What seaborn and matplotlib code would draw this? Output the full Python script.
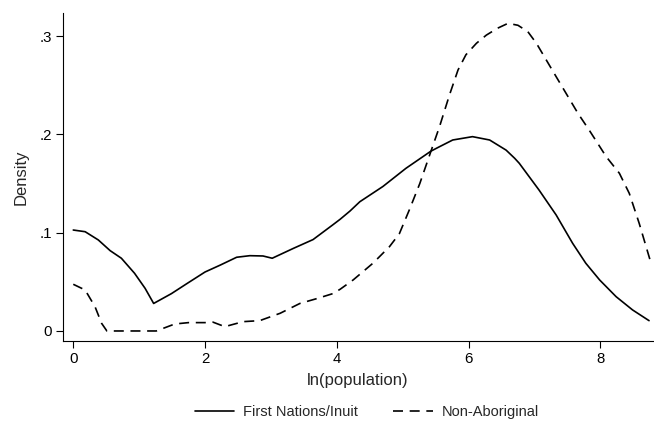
import matplotlib
matplotlib.use("Agg")
import matplotlib.pyplot as plt
import seaborn as sns
import pandas as pd

# First Nations/Inuit density
fn_x = [0, 0.18, 0.38, 0.56, 0.73, 0.93, 1.09, 1.22, 1.49, 1.72, 2.0, 2.23, 2.48, 2.68,
        2.88, 3.02, 3.34, 3.64, 3.94, 4.05, 4.2, 4.35, 4.70, 5.05, 5.43, 5.56, 5.76, 6.06,
        6.32, 6.57, 6.70, 6.77, 7.07, 7.33, 7.58, 7.78, 7.99, 8.24, 8.49, 8.74]
fn_y = [0.1027, 0.101, 0.0926, 0.0817, 0.074, 0.0587, 0.0434, 0.028, 0.038, 0.048, 0.060,
        0.067, 0.075, 0.0766, 0.0763, 0.074, 0.084, 0.093, 0.108, 0.1136, 0.122, 0.1315,
        0.147, 0.1655, 0.183, 0.1875, 0.1943, 0.1977, 0.1943, 0.184, 0.1757, 0.1706, 0.1434,
        0.118, 0.0892, 0.0689, 0.0519, 0.0349, 0.0214, 0.0105]

# Non-Aboriginal density
na_x = [0, 0.18, 0.33, 0.43, 0.51, 1.26, 1.54, 1.75, 2.0, 2.12, 2.3, 2.58, 2.83, 3.14,
        3.44, 3.7, 3.94, 4.05, 4.25, 4.55, 4.80, 4.95, 5.1, 5.26, 5.43, 5.56, 5.71, 5.84,
        5.96, 6.12, 6.27, 6.44, 6.60, 6.75, 6.90, 7.03, 7.18, 7.33, 7.48, 7.66, 7.83, 8.09,
        8.29, 8.44, 8.59, 8.77]
na_y = [0.0475, 0.0417, 0.0247, 0.0078, 0.0, 0.0, 0.0071, 0.0085, 0.0085, 0.009, 0.0044,
        0.0095, 0.0105, 0.018, 0.028, 0.033, 0.038, 0.0424, 0.052, 0.069, 0.0858, 0.099,
        0.123, 0.150, 0.183, 0.208, 0.240, 0.2655, 0.281, 0.2927, 0.301, 0.308, 0.313,
        0.311, 0.3045, 0.2927, 0.2757, 0.2587, 0.2418, 0.2215, 0.2045, 0.1773, 0.1604,
        0.140, 0.1096, 0.0689]

series_names = ["First Nations/Inuit", "Non-Aboriginal"]
x_ticks = [0, 2, 4, 6, 8]
y_ticks = [0, 0.1, 0.2, 0.3]
y_ticklabels = ["0", ".1", ".2", ".3"]

df = pd.concat([
    pd.DataFrame({"x": fn_x, "y": fn_y, "group": series_names[0]}),
    pd.DataFrame({"x": na_x, "y": na_y, "group": series_names[1]}),
])

sns.set_style("white")
plt.rcParams["font.family"] = ["Liberation Sans", "DejaVu Sans"]
plt.rcParams["font.size"] = 10

fig = plt.figure(figsize=(6.54, 4.29), dpi=100)
ax = fig.add_axes([63 / 654, 1 - 341 / 429, 590 / 654, (341 - 13) / 429])

sns.lineplot(data=df, x="x", y="y", hue="group", style="group",
             palette={series_names[0]: "black", series_names[1]: "black"},
             dashes={series_names[0]: "", series_names[1]: (6, 4)},
             linewidth=1.2, sort=False, estimator=None, ax=ax)

ax.set_xlim(-0.156, 8.80)
ax.set_ylim(-0.0102, 0.3235)
ax.set_xticks(x_ticks)
ax.set_xticklabels([str(t) for t in x_ticks])
ax.set_yticks(y_ticks)
ax.set_yticklabels(y_ticklabels)
ax.tick_params(axis="both", direction="out", length=5, width=0.8, color="black",
               labelsize=10.8, labelcolor="black", pad=3, bottom=True, left=True)
ax.set_xlabel("ln(population)", fontsize=12, labelpad=5)
ax.set_ylabel("Density", fontsize=12, labelpad=8)
for side in ["top", "right"]:
    ax.spines[side].set_visible(False)
for side in ["left", "bottom"]:
    ax.spines[side].set_color("black")
    ax.spines[side].set_linewidth(0.8)

handles, labels = ax.get_legend_handles_labels()
ax.legend(handles, labels, loc="center", bbox_to_anchor=(367 / 654, 1 - 412 / 429),
          bbox_transform=fig.transFigure, ncol=2, frameon=False, fontsize=10.5,
          handlelength=2.7, handletextpad=0.65, columnspacing=2.4)

fig.savefig("out.png", dpi=100)
